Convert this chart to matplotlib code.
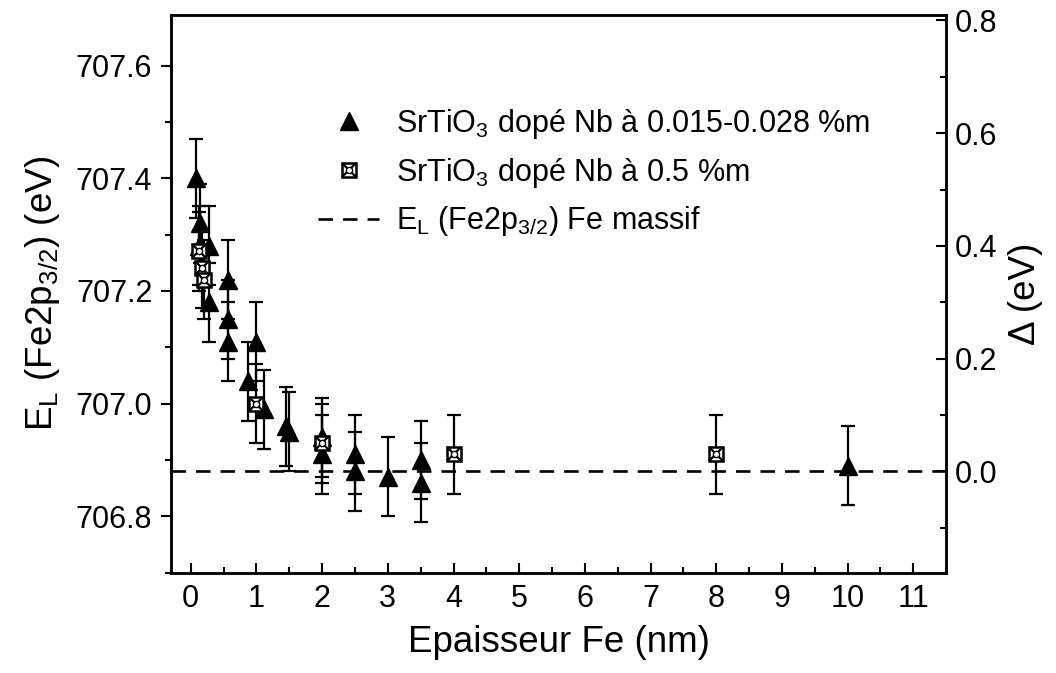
import matplotlib
matplotlib.use('Agg')
import matplotlib.pyplot as plt
from matplotlib.legend_handler import HandlerTuple
from matplotlib.ticker import MultipleLocator, FormatStrFormatter

plt.rcParams['font.family'] = ['Liberation Sans', 'DejaVu Sans']
plt.rcParams['mathtext.fontset'] = 'custom'
plt.rcParams['mathtext.rm'] = 'Liberation Sans'
plt.rcParams['mathtext.it'] = 'Liberation Sans'

# SrTiO3 dope Nb 0.015-0.028 %m (triangles)
x_low = [0.08, 0.14, 0.12, 0.28, 0.28, 0.57, 0.57, 0.57, 0.87, 1.0, 1.11,
         1.45, 1.5, 2.0, 2.0, 2.5, 2.5, 3.0, 3.5, 3.5, 10.0]
y_low = [707.40, 707.32, 707.28, 707.28, 707.18, 707.22, 707.15, 707.11,
         707.04, 707.11, 706.99, 706.96, 706.95, 706.94, 706.91, 706.91,
         706.88, 706.87, 706.90, 706.86, 706.89]
err_low = [0.07] * len(x_low)

# SrTiO3 dope Nb 0.5 %m (crossed squares)
x_high = [0.12, 0.17, 0.2, 1.0, 2.0, 4.0, 8.0]
y_high = [707.27, 707.24, 707.22, 707.00, 706.93, 706.91, 706.91]
err_high = [0.07] * len(x_high)

e_bulk = 706.88
y_min, y_max = 706.70, 707.69

fig = plt.figure(figsize=(10.56, 6.73), dpi=100)
ax = fig.add_axes([0.162, 0.149, 0.734, 0.829])

ax.errorbar(x_low, y_low, yerr=err_low, fmt='none', ecolor='k',
            elinewidth=1.6, capsize=5, capthick=1.6, zorder=2)
ax.errorbar(x_high, y_high, yerr=err_high, fmt='none', ecolor='k',
            elinewidth=1.6, capsize=5, capthick=1.6, zorder=2)
dash = ax.axhline(e_bulk, color='k', lw=1.9, ls=(0, (5.5, 3.8)), zorder=1)

tri, = ax.plot(x_low, y_low, '^', color='k', ms=13, ls='none', zorder=3)
sq, = ax.plot(x_high, y_high, 's', mfc='white', mec='k', mew=1.8, ms=10,
              ls='none', zorder=4)
xx, = ax.plot(x_high, y_high, 'x', color='k', mew=1.6, ms=10, ls='none', zorder=5)
cc, = ax.plot(x_high, y_high, 'o', mfc='white', mec='k', mew=1.0, ms=4.5,
              ls='none', zorder=6)

ax.set_xlim(-0.3, 11.5)
ax.set_ylim(y_min, y_max)
ax.xaxis.set_major_locator(MultipleLocator(1))
ax.xaxis.set_minor_locator(MultipleLocator(0.5))
ax.yaxis.set_major_locator(MultipleLocator(0.2))
ax.yaxis.set_minor_locator(MultipleLocator(0.1))
ax.yaxis.set_major_formatter(FormatStrFormatter('%.1f'))
ax.tick_params(axis='x', which='both', direction='in', top=False, labelsize=22, pad=8)
ax.tick_params(axis='x', which='major', length=7.5, width=1.5)
ax.tick_params(axis='x', which='minor', length=4.5, width=1.5)
ax.tick_params(axis='y', which='both', direction='out', right=False, labelsize=22, pad=6)
ax.tick_params(axis='y', which='major', length=7.5, width=1.5)
ax.tick_params(axis='y', which='minor', length=4.5, width=1.5)
for s in ax.spines.values():
    s.set_linewidth(1.8)

ax.set_xlabel('Epaisseur Fe (nm)', fontsize=26.5, labelpad=8)
ax.set_ylabel(r'E$_\mathregular{L}$ (Fe2p$_\mathregular{3/2}$) (eV)', fontsize=26.5, labelpad=10)

ax2 = ax.twinx()
ax2.set_ylim(y_min - e_bulk, y_max - e_bulk)
ax2.yaxis.set_major_locator(MultipleLocator(0.2))
ax2.yaxis.set_minor_locator(MultipleLocator(0.1))
ax2.yaxis.set_major_formatter(FormatStrFormatter('%.1f'))
ax2.tick_params(axis='y', which='both', direction='in', labelsize=22, pad=6)
ax2.tick_params(axis='y', which='major', length=7.5, width=1.5)
ax2.tick_params(axis='y', which='minor', length=4.5, width=1.5)
ax2.set_ylabel('Δ (eV)', fontsize=26.5, labelpad=8)
for s in ax2.spines.values():
    s.set_linewidth(1.8)

tri_h, = ax.plot([], [], '^', color='k', ms=13)
ax.legend([tri_h, (sq, xx, cc), dash],
          [r'SrTiO$_\mathregular{3}$ dopé Nb à 0.015-0.028 %m',
           r'SrTiO$_\mathregular{3}$ dopé Nb à 0.5 %m',
           r'E$_\mathregular{L}$ (Fe2p$_\mathregular{3/2}$) Fe massif'],
          handler_map={tuple: HandlerTuple(ndivide=1)},
          loc='upper left', bbox_to_anchor=(0.19, 0.835), frameon=False,
          fontsize=22, handlelength=2.0, handletextpad=0.55, labelspacing=0.48,
          borderpad=0, borderaxespad=0)

fig.savefig('out.png', dpi=100)
